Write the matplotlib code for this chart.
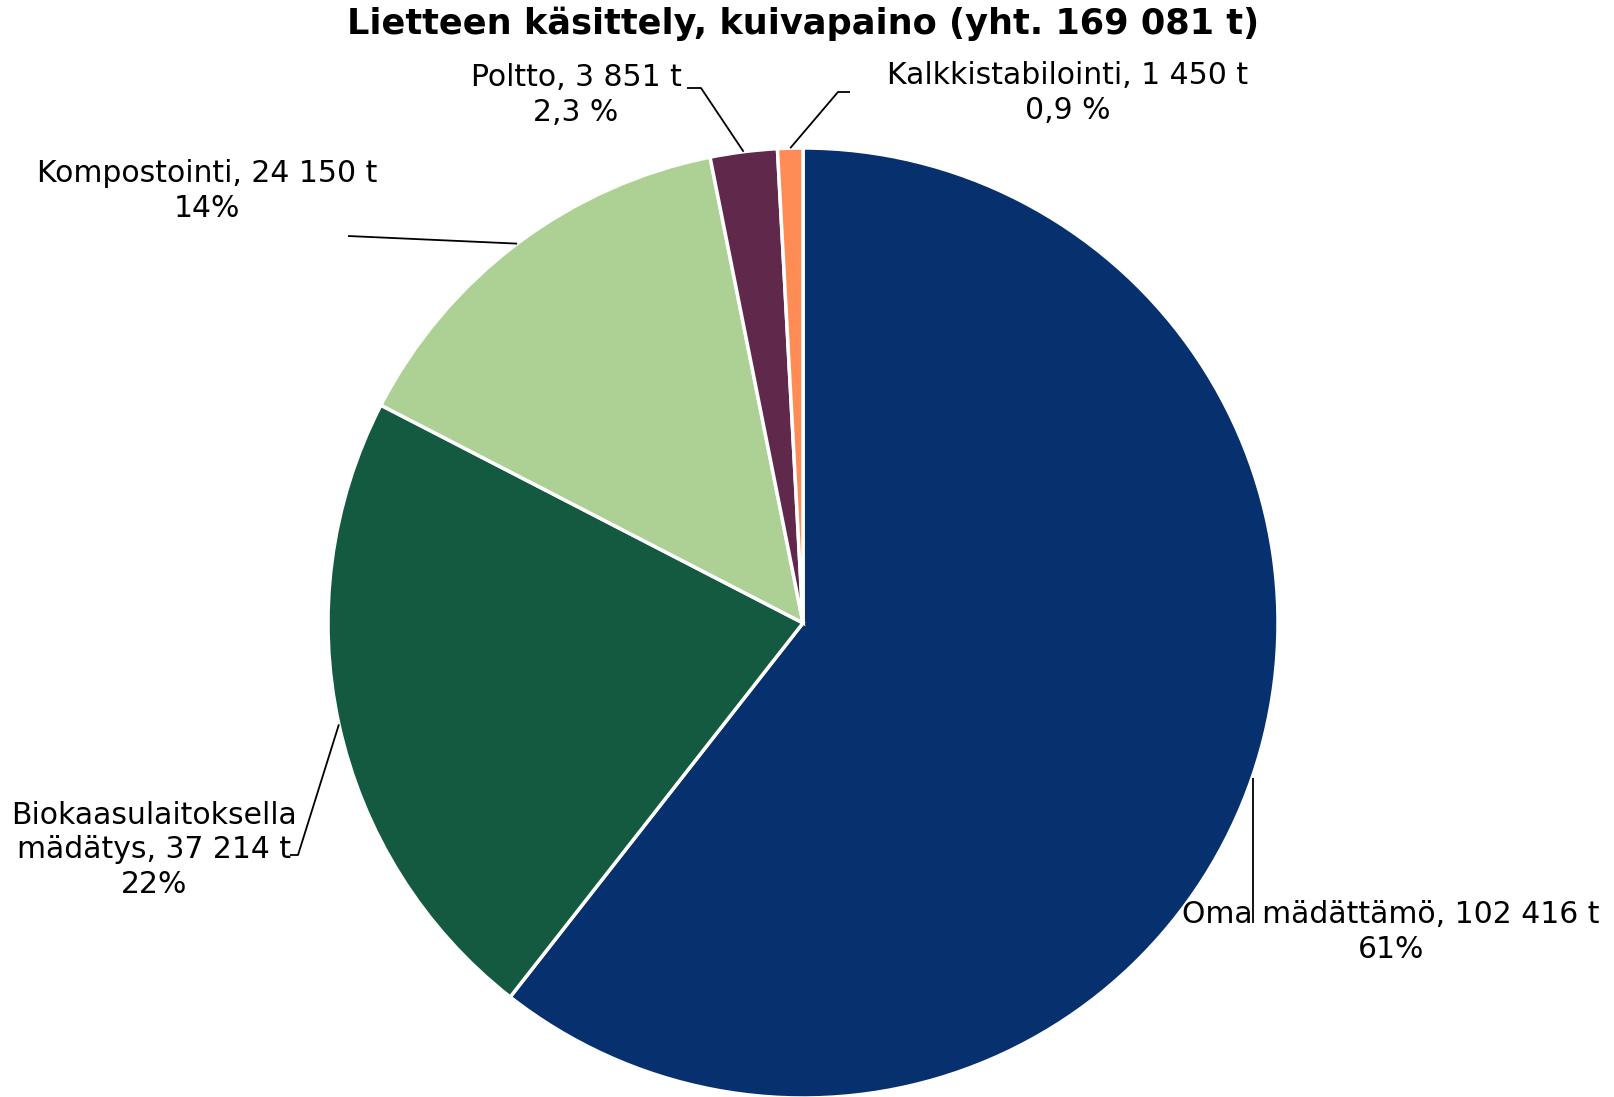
import numpy as np
import matplotlib
matplotlib.use("Agg")
import matplotlib.pyplot as plt

W, H = 1614, 1097

categories = ["Oma mädättämö", "Biokaasulaitoksella\nmädätys", "Kompostointi", "Poltto", "Kalkkistabilointi"]
values = [102416, 37214, 24150, 3851, 1450]
value_labels = ["102 416 t", "37 214 t", "24 150 t", "3 851 t", "1 450 t"]
pct_labels = ["61%", "22%", "14%", "2,3 %", "0,9 %"]
colors = ["#07306E", "#145A40", "#ADD194", "#60284A", "#FF8C55"]
title = "Lietteen käsittely, kuivapaino (yht. 169 081 t)"

# layout (pixel coords, y from top)
center_px = (803, 623)
radius_px = 475
label_pos = [(1391, 932), (154, 850), (207, 191), (576, 95), (1068, 93)]
elbows = [[(1253, 778), (1253, 923)],
          [(298, 855), (290, 855)],
          [(348, 236)],
          [(701, 88), (687, 88)],
          [(838, 92), (850, 92)]]

fig = plt.figure(figsize=(W / 100, H / 100), dpi=100)
ax = fig.add_axes([0, 0, 1, 1])

def Y(y):
    return H - y

wedges, _ = ax.pie(values, colors=colors, startangle=90, counterclock=False,
                   center=(center_px[0], Y(center_px[1])), radius=radius_px,
                   wedgeprops=dict(edgecolor="white", linewidth=2.5))
ax.set_xlim(0, W)
ax.set_ylim(0, H)
ax.set_aspect("auto")
ax.axis("off")

for i, w in enumerate(wedges):
    ang = np.deg2rad((w.theta1 + w.theta2) / 2)
    x0 = center_px[0] + radius_px * np.cos(ang)
    y0 = Y(center_px[1]) + radius_px * np.sin(ang)
    pts = [(x0, y0)] + [(x, Y(y)) for x, y in elbows[i]]
    xs, ys = zip(*pts)
    if i == 0:
        xs = [elbows[0][0][0], elbows[0][1][0]]
        ys = [Y(elbows[0][0][1]), Y(elbows[0][1][1])]
    ax.plot(xs, ys, color="black", lw=1.3, solid_capstyle="butt")
    txt = f"{categories[i]}, {value_labels[i]}\n{pct_labels[i]}"
    ax.text(label_pos[i][0], Y(label_pos[i][1]), txt, ha="center", va="center",
            fontsize=21.5, family="DejaVu Sans", linespacing=1.25, color="black")

ax.text(803, Y(24), title, ha="center", va="center", fontsize=25.3,
        fontweight="bold", family="DejaVu Sans")

fig.savefig("out.png", dpi=100, facecolor="white")
